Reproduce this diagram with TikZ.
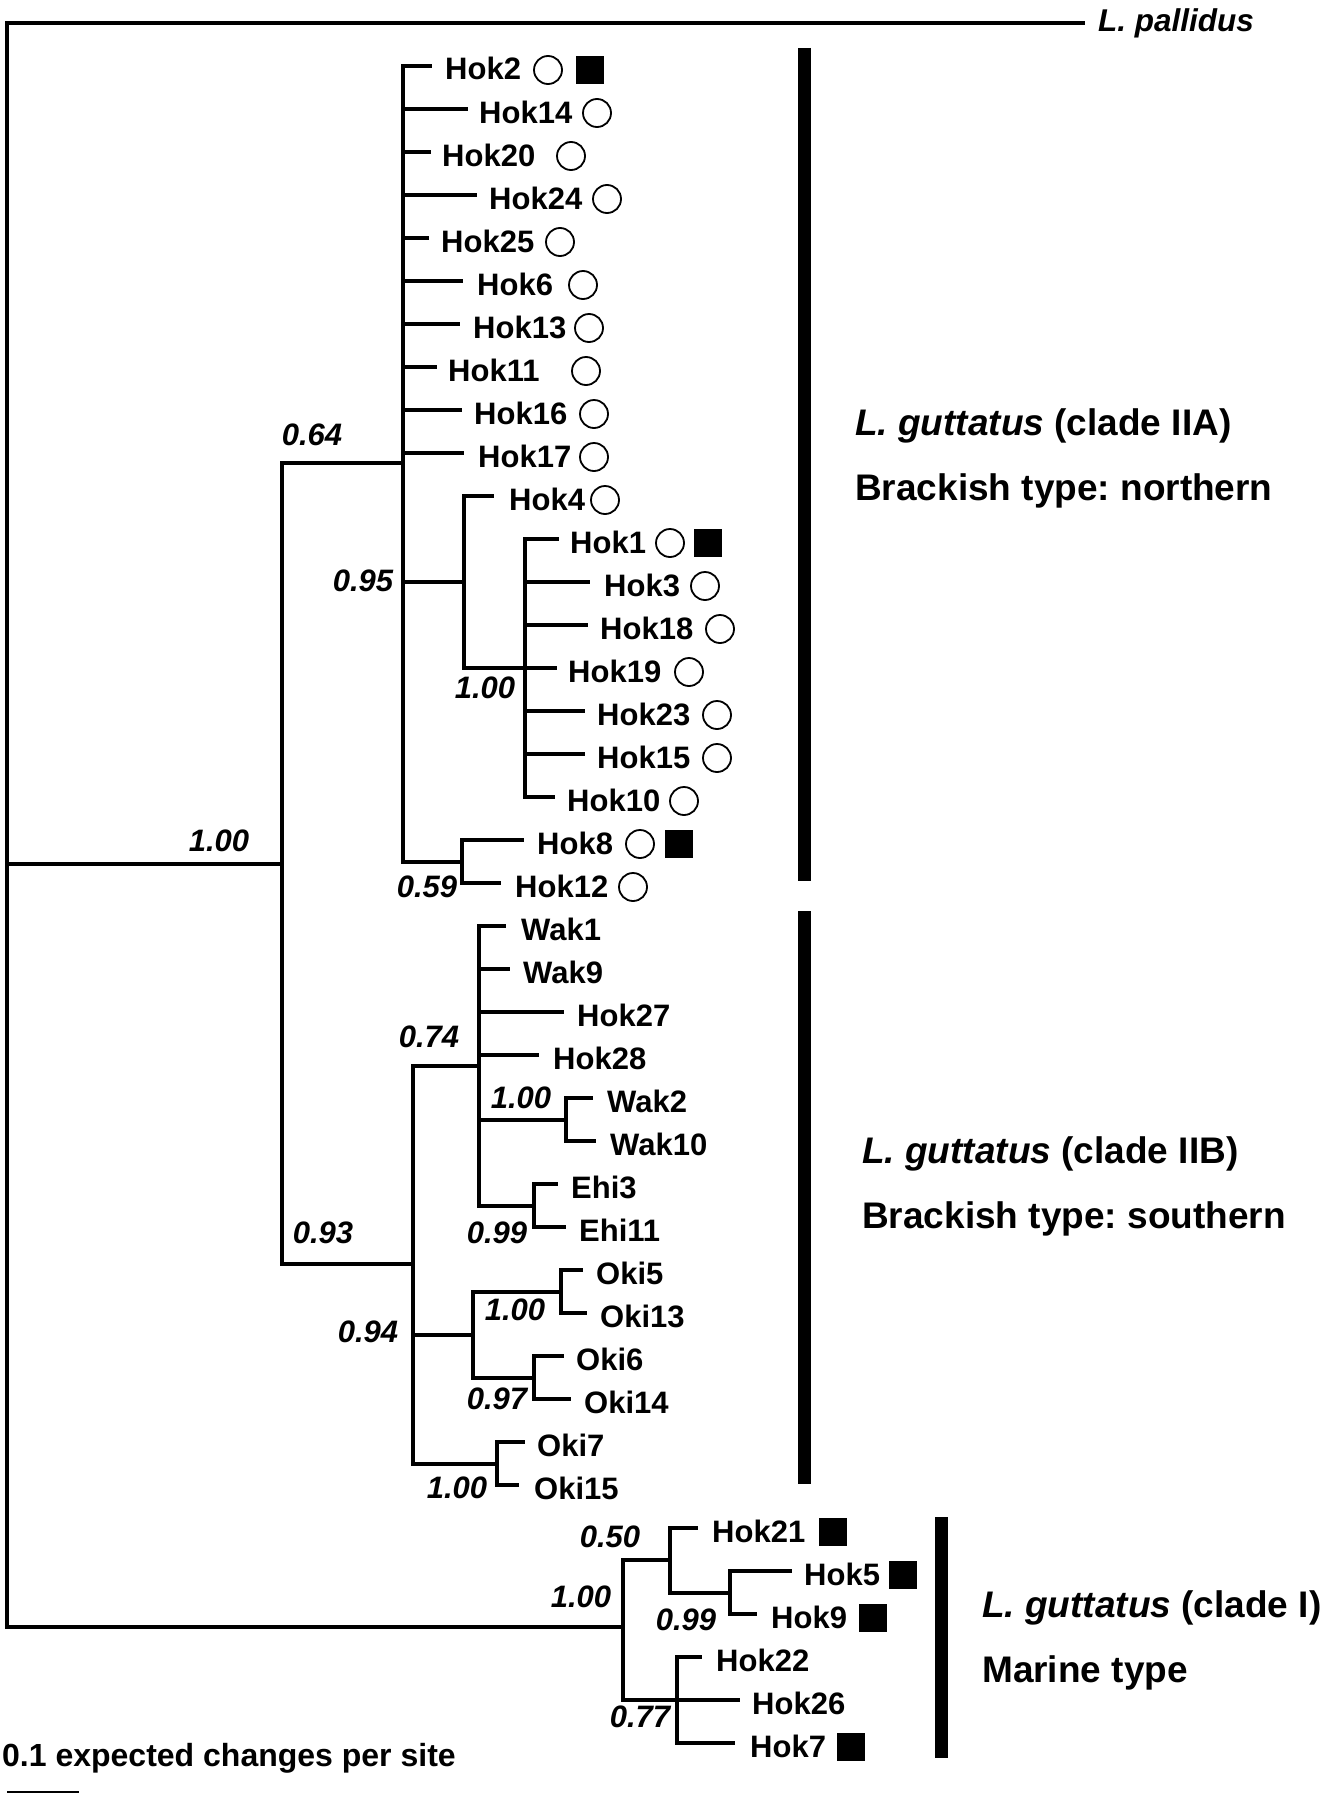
\documentclass[tikz,border=0pt]{standalone}
\usepackage{fontspec}
\setmainfont{Liberation Sans}
\frenchspacing
\newcommand{\mytip}[5]{\coordinate (t#1) at (#3,#2); \node[leaflab] (l#1) at (#4-1,#2+14) {#5};}
\newcommand{\mycirc}[3]{\node[opencirc] (c#1) at (#2,#3+4) {};}
\newcommand{\mysq}[3]{\node[filledsq] (s#1) at (#2,#3+4) {};}
\begin{document}
\begin{tikzpicture}[x=1pt,y=-1pt,
  branch/.style={line width=4pt, line join=miter, line cap=butt},
  leaflab/.style={anchor=base west, inner sep=0pt, font=\fontsize{31}{36}\selectfont\bfseries},
  supval/.style={inner sep=0pt, font=\fontsize{31}{36}\selectfont\bfseries\itshape},
  cladelab/.style={anchor=base west, inner sep=0pt, font=\fontsize{37}{42}\selectfont\bfseries},
  opencirc/.style={circle, draw, line width=1.8pt, minimum size=28pt, inner sep=0pt},
  filledsq/.style={rectangle, fill=black, minimum size=28pt, inner sep=0pt},
  cladebar/.style={line width=13pt, line cap=butt}]
\useasboundingbox (0,0) rectangle (1343,1793);

% internal nodes
\coordinate (root) at (7,864);
\coordinate (nII) at (282,864);
\coordinate (nIIA) at (403,463);
\coordinate (n95) at (464,582);
\coordinate (n100a) at (525,668);
\coordinate (n59) at (462,861.5);
\coordinate (nIIB) at (413,1263.5);
\coordinate (n74) at (479,1065.5);
\coordinate (nWak) at (566,1119.5);
\coordinate (nEhi) at (534,1205.5);
\coordinate (n94) at (473,1334.5);
\coordinate (nOki5) at (561,1291.5);
\coordinate (nOki6) at (534,1377.5);
\coordinate (nOki7) at (497,1463.5);
\coordinate (nI) at (623,1627);
\coordinate (n50) at (670,1560.25);
\coordinate (n99) at (730,1592.5);
\coordinate (n77) at (677,1700);

% outgroup
\coordinate (tpal) at (1085,23);
\node[anchor=base west, inner sep=0pt, font=\fontsize{31.5}{36}\selectfont\bfseries\itshape] (lpal) at (1098,32) {L. pallidus};

% clade IIA tips
\mytip{Hok2}{66}{432}{446}{Hok2}
\mytip{Hok14}{109}{468}{480}{Hok14}
\mytip{Hok20}{152}{431}{443}{Hok20}
\mytip{Hok24}{195}{477}{490}{Hok24}
\mytip{Hok25}{238}{429}{442}{Hok25}
\mytip{Hok6}{281}{463}{478}{Hok6}
\mytip{Hok13}{324}{460}{474}{Hok13}
\mytip{Hok11}{367}{437}{449}{Hok11}
\mytip{Hok16}{410}{462}{475}{Hok16}
\mytip{Hok17}{453}{464}{479}{Hok17}
\mytip{Hok4}{496}{494}{510}{Hok4}
\mytip{Hok1}{539}{559}{571}{Hok1}
\mytip{Hok3}{582}{590}{605}{Hok3}
\mytip{Hok18}{625}{588}{601}{Hok18}
\mytip{Hok19}{668}{557}{569}{Hok19}
\mytip{Hok23}{711}{585}{598}{Hok23}
\mytip{Hok15}{754}{585}{598}{Hok15}
\mytip{Hok10}{797}{555}{568}{Hok10}
\mytip{Hok8}{840}{524}{538}{Hok8}
\mytip{Hok12}{883}{501}{516}{Hok12}
% clade IIB tips
\mytip{Wak1}{926}{506}{522}{Wak1}
\mytip{Wak9}{969}{510}{524}{Wak9}
\mytip{Hok27}{1012}{564}{578}{Hok27}
\mytip{Hok28}{1055}{539}{554}{Hok28}
\mytip{Wak2}{1098}{593}{608}{Wak2}
\mytip{Wak10}{1141}{596}{611}{Wak10}
\mytip{Ehi3}{1184}{558}{572}{Ehi3}
\mytip{Ehi11}{1227}{566}{580}{Ehi11}
\mytip{Oki5}{1270}{583}{597}{Oki5}
\mytip{Oki13}{1313}{587}{601}{Oki13}
\mytip{Oki6}{1356}{564}{577}{Oki6}
\mytip{Oki14}{1399}{571}{585}{Oki14}
\mytip{Oki7}{1442}{525}{538}{Oki7}
\mytip{Oki15}{1485}{519}{535}{Oki15}
% clade I tips
\mytip{Hok21}{1528}{698}{713}{Hok21}
\mytip{Hok5}{1571}{792}{805}{Hok5}
\mytip{Hok9}{1614}{757}{772}{Hok9}
\mytip{Hok22}{1657}{702}{717}{Hok22}
\mytip{Hok26}{1700}{740}{753}{Hok26}
\mytip{Hok7}{1743}{735}{751}{Hok7}

% branches
\draw[branch] (root) |- (tpal);
\draw[branch] (root) -- (nII);
\draw[branch] (root) |- (nI);
\draw[branch] (nII) |- (nIIA);
\draw[branch] (nII) |- (nIIB);
\foreach \t in {Hok2,Hok14,Hok20,Hok24,Hok25,Hok6,Hok13,Hok11,Hok16,Hok17}
  \draw[branch] (nIIA) |- (t\t);
\draw[branch] (nIIA) |- (n95);
\draw[branch] (nIIA) |- (n59);
\draw[branch] (n95) |- (tHok4);
\draw[branch] (n95) |- (n100a);
\foreach \t in {Hok1,Hok3,Hok18,Hok19,Hok23,Hok15,Hok10}
  \draw[branch] (n100a) |- (t\t);
\draw[branch] (n59) |- (tHok8);
\draw[branch] (n59) |- (tHok12);
\draw[branch] (nIIB) |- (n74);
\draw[branch] (nIIB) |- (n94);
\draw[branch] (nIIB) |- (nOki7);
\foreach \t in {Wak1,Wak9,Hok27,Hok28}
  \draw[branch] (n74) |- (t\t);
\draw[branch] (n74) |- (nWak);
\draw[branch] (n74) |- (nEhi);
\draw[branch] (nWak) |- (tWak2);
\draw[branch] (nWak) |- (tWak10);
\draw[branch] (nEhi) |- (tEhi3);
\draw[branch] (nEhi) |- (tEhi11);
\draw[branch] (n94) |- (nOki5);
\draw[branch] (n94) |- (nOki6);
\draw[branch] (nOki5) |- (tOki5);
\draw[branch] (nOki5) |- (tOki13);
\draw[branch] (nOki6) |- (tOki6);
\draw[branch] (nOki6) |- (tOki14);
\draw[branch] (nOki7) |- (tOki7);
\draw[branch] (nOki7) |- (tOki15);
\draw[branch] (nI) |- (n50);
\draw[branch] (nI) |- (n77);
\draw[branch] (n50) |- (tHok21);
\draw[branch] (n50) |- (n99);
\draw[branch] (n99) |- (tHok5);
\draw[branch] (n99) |- (tHok9);
\draw[branch] (n77) |- (tHok22);
\draw[branch] (n77) |- (tHok26);
\draw[branch] (n77) |- (tHok7);

% support values
\node[supval] (s1) at (219,841) {1.00};
\node[supval] (s2) at (312,435) {0.64};
\node[supval] (s3) at (363,581) {0.95};
\node[supval] (s4) at (485,688) {1.00};
\node[supval] (s5) at (427,887) {0.59};
\node[supval] (s6) at (323,1233) {0.93};
\node[supval] (s7) at (429,1037) {0.74};
\node[supval] (s8) at (521,1098) {1.00};
\node[supval] (s9) at (497,1233) {0.99};
\node[supval] (s10) at (368,1332) {0.94};
\node[supval] (s11) at (515,1310) {1.00};
\node[supval] (s12) at (497,1399) {0.97};
\node[supval] (s13) at (457,1488) {1.00};
\node[supval] (s14) at (581,1597) {1.00};
\node[supval] (s15) at (610,1537) {0.50};
\node[supval] (s16) at (686,1620) {0.99};
\node[supval] (s17) at (640,1717) {0.77};

% habitat markers
\mycirc{Hok2}{548}{66} \mysq{Hok2}{589.5}{66}
\mycirc{Hok14}{597}{109}
\mycirc{Hok20}{571}{152}
\mycirc{Hok24}{607}{195}
\mycirc{Hok25}{560}{238}
\mycirc{Hok6}{583}{281}
\mycirc{Hok13}{589}{324}
\mycirc{Hok11}{586}{367}
\mycirc{Hok16}{594}{410}
\mycirc{Hok17}{594}{453}
\mycirc{Hok4}{605}{496}
\mycirc{Hok1}{670}{539} \mysq{Hok1}{707.5}{539}
\mycirc{Hok3}{705}{582}
\mycirc{Hok18}{720}{625}
\mycirc{Hok19}{689}{668}
\mycirc{Hok23}{717}{711}
\mycirc{Hok15}{717}{754}
\mycirc{Hok10}{684}{797}
\mycirc{Hok8}{640}{840} \mysq{Hok8}{679}{840}
\mycirc{Hok12}{633}{883}
\mysq{Hok21}{832.5}{1528}
\mysq{Hok5}{903}{1571}
\mysq{Hok9}{873}{1614}
\mysq{Hok7}{851}{1743}

% clade bars
\coordinate (barAt) at (804.5,48);  \coordinate (barAb) at (804.5,881);
\coordinate (barBt) at (804.5,911); \coordinate (barBb) at (804.5,1484);
\coordinate (barCt) at (941,1517);  \coordinate (barCb) at (941,1758);
\draw[cladebar] (barAt) -- (barAb);
\draw[cladebar] (barBt) -- (barBb);
\draw[cladebar] (barCt) -- (barCb);

% clade labels
\node[cladelab] (cA1) at (855,435) {\textit{L. guttatus} (clade IIA)};
\node[cladelab] (cA2) at (855,500) {Brackish type: northern};
\node[cladelab] (cB1) at (862,1163) {\textit{L. guttatus} (clade IIB)};
\node[cladelab] (cB2) at (862,1228) {Brackish type: southern};
\node[cladelab] (cC1) at (982,1617) {\textit{L. guttatus} (clade I)};
\node[cladelab] (cC2) at (982,1682) {Marine type};

% scale
\node[anchor=base west, inner sep=0pt, font=\fontsize{32}{38}\selectfont\bfseries] (scl) at (2,1766) {0.1 expected changes per site};
\coordinate (sbl) at (7,1792); \coordinate (sbr) at (79,1792);
\draw[line width=3pt] (sbl) -- (sbr);
\end{tikzpicture}
\end{document}
